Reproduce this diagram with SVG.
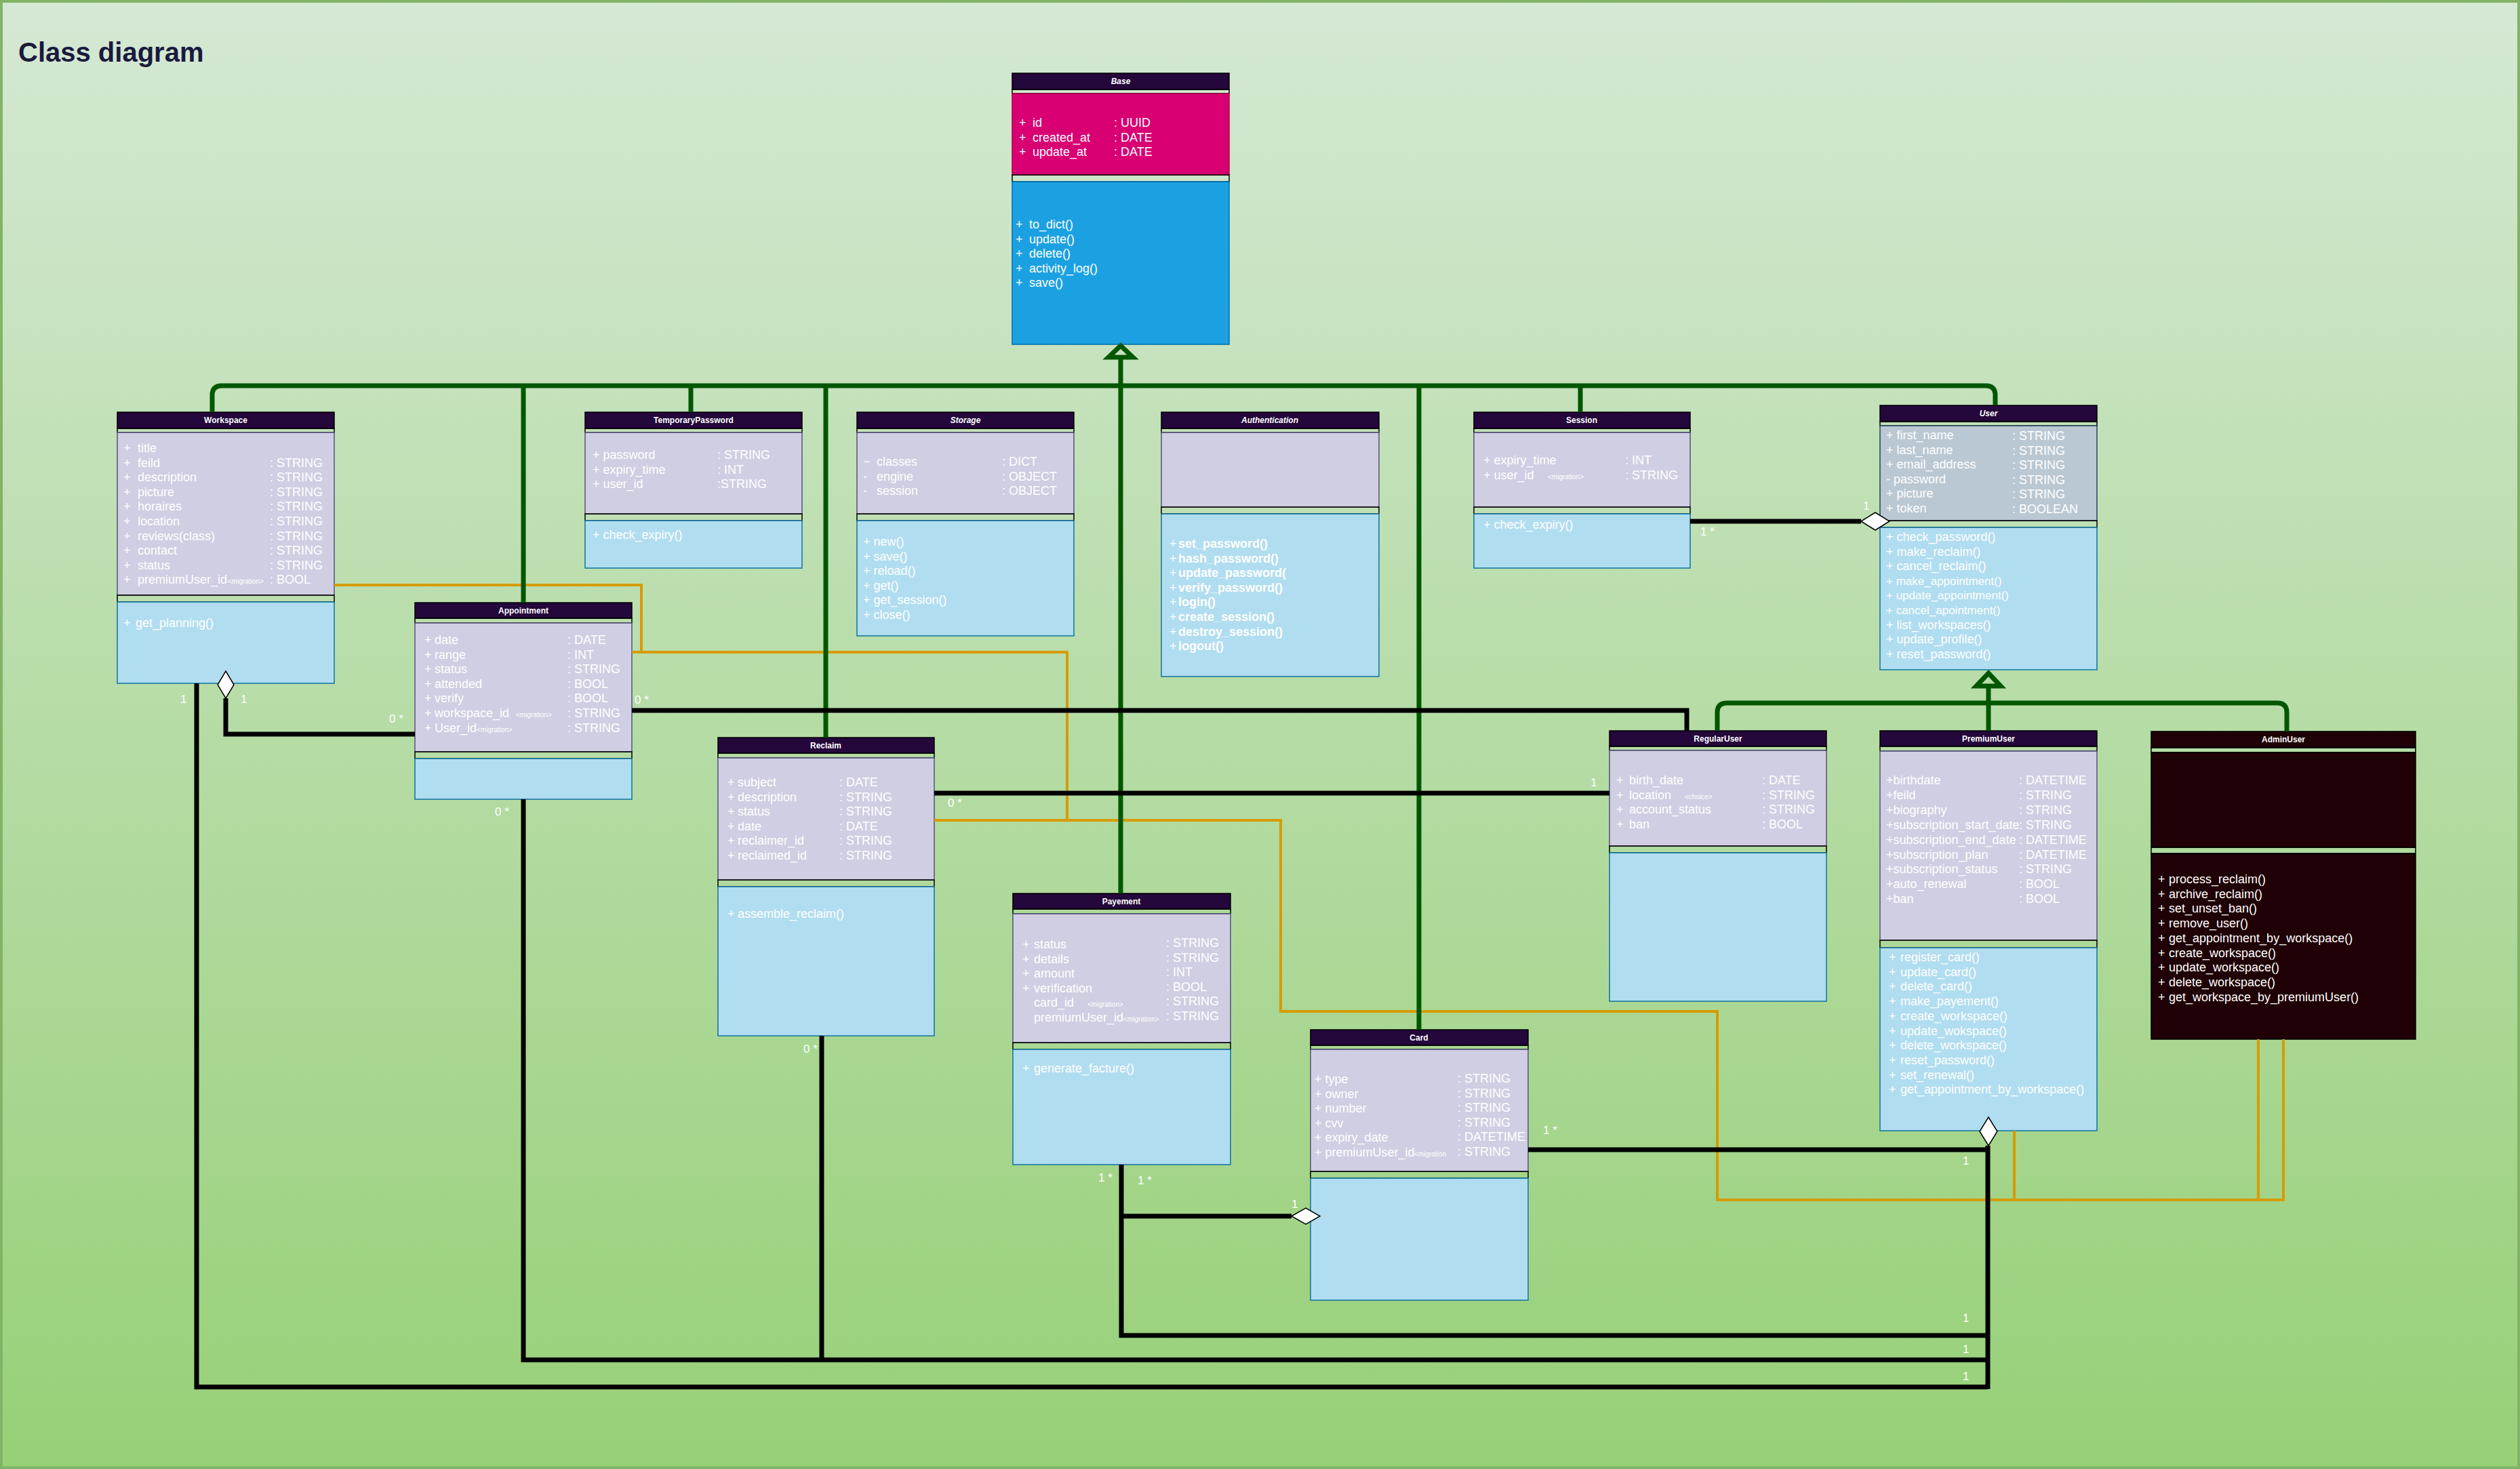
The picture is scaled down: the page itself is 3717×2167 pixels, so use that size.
<svg xmlns="http://www.w3.org/2000/svg" width="3717" height="2167" viewBox="0 0 3717 2167">
<defs>
<linearGradient id="bg" x1="0" y1="0" x2="0" y2="1">
<stop offset="0" stop-color="#d5e8d4"/>
<stop offset="1" stop-color="#97d077"/>
</linearGradient>
</defs>
<style>
text{font-family:"Liberation Sans",Arial,sans-serif;fill:#ffffff;font-size:18px}
.h{fill:#24073b;stroke:#000;stroke-width:1.5}
.g{fill:none;stroke:#000;stroke-width:1.5}
.at{fill:#d0cee2;stroke:#56517e;stroke-width:1.5}
.me{fill:#b1ddf0;stroke:#10739e;stroke-width:1.5}
.ht{font-size:12px;font-weight:bold;text-anchor:middle}
.it{font-style:italic}
.s{font-size:10px}
.b{font-weight:bold}
.lb{font-size:17px}
.gr{fill:none;stroke:#005700;stroke-width:7}
.bk{fill:none;stroke:#000;stroke-width:7}
.or{fill:none;stroke:#d79b00;stroke-width:4}
.dm{fill:#fff;stroke:#000;stroke-width:1.5}
</style>
<rect x="2" y="2" width="3713" height="2163" fill="url(#bg)" stroke="#82b366" stroke-width="4"/>
<text x="27" y="91" style="font-size:40px;font-weight:bold;fill:#1a1a3e">Class diagram</text>

<g id="Base">
<rect class="h" x="1493" y="108" width="320" height="24"/>
<rect class="g" x="1493" y="132" width="320" height="6"/>
<rect x="1493" y="138" width="320" height="120" fill="#d80073" stroke="#a50040" stroke-width="1.5"/>
<rect class="g" x="1493" y="258" width="320" height="10"/>
<rect x="1493" y="268" width="320" height="240" fill="#1ba1e2" stroke="#006eaf" stroke-width="1.5"/>
<text class="ht it" x="1653" y="124">Base</text>
<text x="1503" y="187">+</text><text x="1523" y="187">id</text><text x="1643" y="187">: UUID</text>
<text x="1503" y="208.5">+</text><text x="1523" y="208.5">created_at</text><text x="1643" y="208.5">: DATE</text>
<text x="1503" y="230">+</text><text x="1523" y="230">update_at</text><text x="1643" y="230">: DATE</text>
<text x="1498" y="337">+</text><text x="1518" y="337">to_dict()</text>
<text x="1498" y="358.6">+</text><text x="1518" y="358.6">update()</text>
<text x="1498" y="380.2">+</text><text x="1518" y="380.2">delete()</text>
<text x="1498" y="401.8">+</text><text x="1518" y="401.8">activity_log()</text>
<text x="1498" y="423.4">+</text><text x="1518" y="423.4">save()</text>
</g>

<g id="Workspace">
<rect class="h" x="173" y="608" width="320" height="24"/>
<rect class="g" x="173" y="632" width="320" height="6"/>
<rect class="at" x="173" y="638" width="320" height="240"/>
<rect class="g" x="173" y="878" width="320" height="10"/>
<rect class="me" x="173" y="888" width="320" height="120"/>
<text class="ht" x="333" y="624">Workspace</text>
<text x="182" y="667">+</text><text x="203" y="667">title</text>
<text x="182" y="688.6">+</text><text x="203" y="688.6">feild</text><text x="398" y="688.6">: STRING</text>
<text x="182" y="710.2">+</text><text x="203" y="710.2">description</text><text x="398" y="710.2">: STRING</text>
<text x="182" y="731.8">+</text><text x="203" y="731.8">picture</text><text x="398" y="731.8">: STRING</text>
<text x="182" y="753.4">+</text><text x="203" y="753.4">horaires</text><text x="398" y="753.4">: STRING</text>
<text x="182" y="775">+</text><text x="203" y="775">location</text><text x="398" y="775">: STRING</text>
<text x="182" y="796.6">+</text><text x="203" y="796.6">reviews(class)</text><text x="398" y="796.6">: STRING</text>
<text x="182" y="818.2">+</text><text x="203" y="818.2">contact</text><text x="398" y="818.2">: STRING</text>
<text x="182" y="839.8">+</text><text x="203" y="839.8">status</text><text x="398" y="839.8">: STRING</text>
<text x="182" y="861.4">+</text><text x="203" y="861.4">premiumUser_id</text><text class="s" x="336" y="861.4">&lt;migration&gt;</text><text x="398" y="861.4">: BOOL</text>
<text x="182" y="925">+</text><text x="200" y="925">get_planning()</text>
</g>

<g id="TemporaryPassword">
<rect class="h" x="863" y="608" width="320" height="24"/>
<rect class="g" x="863" y="632" width="320" height="6"/>
<rect class="at" x="863" y="638" width="320" height="120"/>
<rect class="g" x="863" y="758" width="320" height="10"/>
<rect class="me" x="863" y="768" width="320" height="70"/>
<text class="ht" x="1023" y="624">TemporaryPassword</text>
<text x="874" y="677">+ password</text><text x="1058" y="677">: STRING</text>
<text x="874" y="698.5">+ expiry_time</text><text x="1058" y="698.5">: INT</text>
<text x="874" y="720">+ user_id</text><text x="1058" y="720">:STRING</text>
<text x="874" y="795">+ check_expiry()</text>
</g>

<g id="Storage">
<rect class="h" x="1264" y="608" width="320" height="24"/>
<rect class="g" x="1264" y="632" width="320" height="6"/>
<rect class="at" x="1264" y="638" width="320" height="120"/>
<rect class="g" x="1264" y="758" width="320" height="10"/>
<rect class="me" x="1264" y="768" width="320" height="170"/>
<text class="ht it" x="1424" y="624">Storage</text>
<text x="1273" y="687">~</text><text x="1293" y="687">classes</text><text x="1478" y="687">: DICT</text>
<text x="1273" y="708.5">-</text><text x="1293" y="708.5">engine</text><text x="1478" y="708.5">: OBJECT</text>
<text x="1273" y="730">-</text><text x="1293" y="730">session</text><text x="1478" y="730">: OBJECT</text>
<text x="1273" y="805">+ new()</text>
<text x="1273" y="826.6">+ save()</text>
<text x="1273" y="848.2">+ reload()</text>
<text x="1273" y="869.8">+ get()</text>
<text x="1273" y="891.4">+ get_session()</text>
<text x="1273" y="913">+ close()</text>
</g>

<g id="Authentication">
<rect class="h" x="1713" y="608" width="321" height="24"/>
<rect class="g" x="1713" y="632" width="321" height="6"/>
<rect class="at" x="1713" y="638" width="321" height="110"/>
<rect class="g" x="1713" y="748" width="321" height="10"/>
<rect class="me" x="1713" y="758" width="321" height="240"/>
<text class="ht it" x="1873" y="624">Authentication</text>
<text x="1725" y="808">+</text><text class="b" x="1738" y="808">set_password()</text>
<text x="1725" y="829.6">+</text><text class="b" x="1738" y="829.6">hash_password()</text>
<text x="1725" y="851.2">+</text><text class="b" x="1738" y="851.2">update_password(</text>
<text x="1725" y="872.8">+</text><text class="b" x="1738" y="872.8">verify_password()</text>
<text x="1725" y="894.4">+</text><text class="b" x="1738" y="894.4">login()</text>
<text x="1725" y="916">+</text><text class="b" x="1738" y="916">create_session()</text>
<text x="1725" y="937.6">+</text><text class="b" x="1738" y="937.6">destroy_session()</text>
<text x="1725" y="959.2">+</text><text class="b" x="1738" y="959.2">logout()</text>
</g>

<g id="Session">
<rect class="h" x="2174" y="608" width="319" height="24"/>
<rect class="g" x="2174" y="632" width="319" height="6"/>
<rect class="at" x="2174" y="638" width="319" height="110"/>
<rect class="g" x="2174" y="748" width="319" height="10"/>
<rect class="me" x="2174" y="758" width="319" height="80"/>
<text class="ht" x="2333" y="624">Session</text>
<text x="2188" y="685">+ expiry_time</text><text x="2397" y="685">: INT</text>
<text x="2188" y="706.5">+ user_id</text><text class="s" x="2283" y="706.5">&lt;migration&gt;</text><text x="2397" y="706.5">: STRING</text>
<text x="2188" y="780">+ check_expiry()</text>
</g>

<g id="User">
<rect class="h" x="2773" y="598" width="320" height="24"/>
<rect class="g" x="2773" y="622" width="320" height="6"/>
<rect x="2773" y="628" width="320" height="140" fill="#bac8d3" stroke="#23445d" stroke-width="1.5"/>
<rect class="g" x="2773" y="768" width="320" height="10"/>
<rect class="me" x="2773" y="778" width="320" height="210"/>
<text class="ht it" x="2933" y="614">User</text>
<text x="2782" y="648">+ first_name</text><text x="2968" y="649">: STRING</text>
<text x="2782" y="669.6">+ last_name</text><text x="2968" y="670.6">: STRING</text>
<text x="2782" y="691.2">+ email_address</text><text x="2968" y="692.2">: STRING</text>
<text x="2782" y="712.8">- password</text><text x="2968" y="713.8">: STRING</text>
<text x="2782" y="734.4">+ picture</text><text x="2968" y="735.4">: STRING</text>
<text x="2782" y="756">+ token</text><text x="2968" y="757">: BOOLEAN</text>
<text x="2782" y="798">+ check_password()</text>
<text x="2782" y="819.6">+ make_reclaim()</text>
<text x="2782" y="841.2">+ cancel_reclaim()</text>
<text x="2782" y="862.8" style="font-size:17px">+ make_appointment()</text>
<text x="2782" y="884.4" style="font-size:17px">+ update_appointment()</text>
<text x="2782" y="906" style="font-size:17px">+ cancel_apointment()</text>
<text x="2782" y="927.6">+ list_workspaces()</text>
<text x="2782" y="949.2">+ update_profile()</text>
<text x="2782" y="970.8">+ reset_password()</text>
</g>

<g id="Appointment">
<rect class="h" x="612" y="889" width="320" height="23"/>
<rect class="g" x="612" y="912" width="320" height="7"/>
<rect class="at" x="612" y="919" width="320" height="190"/>
<rect class="g" x="612" y="1109" width="320" height="10"/>
<rect class="me" x="612" y="1119" width="320" height="60"/>
<text class="ht" x="772" y="905">Appointment</text>
<text x="626" y="950">+</text><text x="641" y="950">date</text><text x="837" y="950">: DATE</text>
<text x="626" y="971.6">+</text><text x="641" y="971.6">range</text><text x="837" y="971.6">: INT</text>
<text x="626" y="993.2">+</text><text x="641" y="993.2">status</text><text x="837" y="993.2">: STRING</text>
<text x="626" y="1014.8">+</text><text x="641" y="1014.8">attended</text><text x="837" y="1014.8">: BOOL</text>
<text x="626" y="1036.4">+</text><text x="641" y="1036.4">verify</text><text x="837" y="1036.4">: BOOL</text>
<text x="626" y="1058">+</text><text x="641" y="1058">workspace_id</text><text class="s" x="761" y="1058">&lt;migration&gt;</text><text x="837" y="1058">: STRING</text>
<text x="626" y="1079.6">+</text><text x="641" y="1079.6">User_id</text><text class="s" x="703" y="1079.6">&lt;migration&gt;</text><text x="837" y="1079.6">: STRING</text>
</g>

<g id="Reclaim">
<rect class="h" x="1059" y="1088" width="319" height="23"/>
<rect class="g" x="1059" y="1111" width="319" height="7"/>
<rect class="at" x="1059" y="1118" width="319" height="180"/>
<rect class="g" x="1059" y="1298" width="319" height="10"/>
<rect class="me" x="1059" y="1308" width="319" height="220"/>
<text class="ht" x="1218" y="1104">Reclaim</text>
<text x="1073" y="1160">+</text><text x="1088" y="1160">subject</text><text x="1238" y="1160">: DATE</text>
<text x="1073" y="1181.6">+</text><text x="1088" y="1181.6">description</text><text x="1238" y="1181.6">: STRING</text>
<text x="1073" y="1203.2">+</text><text x="1088" y="1203.2">status</text><text x="1238" y="1203.2">: STRING</text>
<text x="1073" y="1224.8">+</text><text x="1088" y="1224.8">date</text><text x="1238" y="1224.8">: DATE</text>
<text x="1073" y="1246.4">+</text><text x="1088" y="1246.4">reclaimer_id</text><text x="1238" y="1246.4">: STRING</text>
<text x="1073" y="1268">+</text><text x="1088" y="1268">reclaimed_id</text><text x="1238" y="1268">: STRING</text>
<text x="1073" y="1354">+</text><text x="1088" y="1354">assemble_reclaim()</text>
</g>

<g id="Payement">
<rect class="h" x="1494" y="1318" width="321" height="23"/>
<rect class="g" x="1494" y="1341" width="321" height="7"/>
<rect class="at" x="1494" y="1348" width="321" height="190"/>
<rect class="g" x="1494" y="1538" width="321" height="10"/>
<rect class="me" x="1494" y="1548" width="321" height="170"/>
<text class="ht" x="1654" y="1334">Payement</text>
<text x="1508" y="1399">+</text><text x="1525" y="1399">status</text><text x="1720" y="1397">: STRING</text>
<text x="1508" y="1420.6">+</text><text x="1525" y="1420.6">details</text><text x="1720" y="1418.6">: STRING</text>
<text x="1508" y="1442.2">+</text><text x="1525" y="1442.2">amount</text><text x="1720" y="1440.2">: INT</text>
<text x="1508" y="1463.8">+</text><text x="1525" y="1463.8">verification</text><text x="1720" y="1461.8">: BOOL</text>
<text x="1525" y="1485.4">card_id</text><text class="s" x="1604" y="1485.4">&lt;migration&gt;</text><text x="1720" y="1483.4">: STRING</text>
<text x="1525" y="1507">premiumUser_id</text><text class="s" x="1657" y="1507">&lt;migration&gt;</text><text x="1720" y="1505">: STRING</text>
<text x="1508" y="1582">+</text><text x="1525" y="1582">generate_facture()</text>
</g>

<g id="Card">
<rect class="h" x="1933" y="1519" width="321" height="23"/>
<rect class="g" x="1933" y="1542" width="321" height="6"/>
<rect class="at" x="1933" y="1548" width="321" height="180"/>
<rect class="g" x="1933" y="1728" width="321" height="10"/>
<rect class="me" x="1933" y="1738" width="321" height="180"/>
<text class="ht" x="2093" y="1535">Card</text>
<text x="1939" y="1598">+ type</text><text x="2150" y="1597">: STRING</text>
<text x="1939" y="1619.5">+ owner</text><text x="2150" y="1618.5">: STRING</text>
<text x="1939" y="1641">+ number</text><text x="2150" y="1640">: STRING</text>
<text x="1939" y="1662.5">+ cvv</text><text x="2150" y="1661.5">: STRING</text>
<text x="1939" y="1684">+ expiry_date</text><text x="2150" y="1683">: DATETIME</text>
<text x="1939" y="1705.5">+ premiumUser_id</text><text class="s" x="2086" y="1705.5">&lt;migration</text><text x="2150" y="1704.5">: STRING</text>
</g>

<g id="RegularUser">
<rect class="h" x="2374" y="1078" width="320" height="23"/>
<rect class="g" x="2374" y="1101" width="320" height="6"/>
<rect class="at" x="2374" y="1107" width="320" height="141"/>
<rect class="g" x="2374" y="1248" width="320" height="10"/>
<rect class="me" x="2374" y="1258" width="320" height="219"/>
<text class="ht" x="2534" y="1094">RegularUser</text>
<text x="2384" y="1157">+</text><text x="2403" y="1157">birth_date</text><text x="2599" y="1157">: DATE</text>
<text x="2384" y="1178.6">+</text><text x="2403" y="1178.6">location</text><text class="s" x="2485" y="1178.6">&lt;choice&gt;</text><text x="2599" y="1178.6">: STRING</text>
<text x="2384" y="1200.2">+</text><text x="2403" y="1200.2">account_status</text><text x="2599" y="1200.2">: STRING</text>
<text x="2384" y="1221.8">+</text><text x="2403" y="1221.8">ban</text><text x="2599" y="1221.8">: BOOL</text>
</g>

<g id="PremiumUser">
<rect class="h" x="2773" y="1078" width="320" height="23"/>
<rect class="g" x="2773" y="1101" width="320" height="7"/>
<rect class="at" x="2773" y="1108" width="320" height="279"/>
<rect class="g" x="2773" y="1387" width="320" height="11"/>
<rect class="me" x="2773" y="1398" width="320" height="270"/>
<text class="ht" x="2933" y="1094">PremiumUser</text>
<text x="2782" y="1157">+birthdate</text><text x="2978" y="1157">: DATETIME</text>
<text x="2782" y="1178.9">+feild</text><text x="2978" y="1178.9">: STRING</text>
<text x="2782" y="1200.8">+biography</text><text x="2978" y="1200.8">: STRING</text>
<text x="2782" y="1222.7">+subscription_start_date</text><text x="2978" y="1222.7">: STRING</text>
<text x="2782" y="1244.6">+subscription_end_date</text><text x="2978" y="1244.6">: DATETIME</text>
<text x="2782" y="1266.5">+subscription_plan</text><text x="2978" y="1266.5">: DATETIME</text>
<text x="2782" y="1288.4">+subscription_status</text><text x="2978" y="1288.4">: STRING</text>
<text x="2782" y="1310.3">+auto_renewal</text><text x="2978" y="1310.3">: BOOL</text>
<text x="2782" y="1332.2">+ban</text><text x="2978" y="1332.2">: BOOL</text>
<text x="2786" y="1418">+</text><text x="2803" y="1418">register_card()</text>
<text x="2786" y="1439.7">+</text><text x="2803" y="1439.7">update_card()</text>
<text x="2786" y="1461.4">+</text><text x="2803" y="1461.4">delete_card()</text>
<text x="2786" y="1483.1">+</text><text x="2803" y="1483.1">make_payement()</text>
<text x="2786" y="1504.8">+</text><text x="2803" y="1504.8">create_workspace()</text>
<text x="2786" y="1526.5">+</text><text x="2803" y="1526.5">update_wokspace()</text>
<text x="2786" y="1548.2">+</text><text x="2803" y="1548.2">delete_workspace()</text>
<text x="2786" y="1569.9">+</text><text x="2803" y="1569.9">reset_password()</text>
<text x="2786" y="1591.6">+</text><text x="2803" y="1591.6">set_renewal()</text>
<text x="2786" y="1613.3">+</text><text x="2803" y="1613.3">get_appointment_by_workspace()</text>
</g>

<g id="AdminUser">
<rect x="3173" y="1079" width="390" height="24" fill="#1e0006" stroke="#000" stroke-width="1.5"/>
<rect class="g" x="3173" y="1103" width="390" height="7"/>
<rect x="3173" y="1110" width="390" height="140" fill="#1e0006" stroke="#000" stroke-width="1.5"/>
<rect class="g" x="3173" y="1250" width="390" height="9"/>
<rect x="3173" y="1259" width="390" height="274" fill="#1e0006" stroke="#000" stroke-width="1.5"/>
<text class="ht" x="3368" y="1095">AdminUser</text>
<text x="3183" y="1303">+</text><text x="3199" y="1303">process_reclaim()</text>
<text x="3183" y="1324.7">+</text><text x="3199" y="1324.7">archive_reclaim()</text>
<text x="3183" y="1346.4">+</text><text x="3199" y="1346.4">set_unset_ban()</text>
<text x="3183" y="1368.1">+</text><text x="3199" y="1368.1">remove_user()</text>
<text x="3183" y="1389.8">+</text><text x="3199" y="1389.8">get_appointment_by_workspace()</text>
<text x="3183" y="1411.5">+</text><text x="3199" y="1411.5">create_workspace()</text>
<text x="3183" y="1433.2">+</text><text x="3199" y="1433.2">update_workspace()</text>
<text x="3183" y="1454.9">+</text><text x="3199" y="1454.9">delete_workspace()</text>
<text x="3183" y="1476.6">+</text><text x="3199" y="1476.6">get_workspace_by_premiumUser()</text>
</g>

<g id="connectors">
<path class="or" d="M493,863 H946 V962"/>
<path class="or" d="M932,962 H1574 V1210"/>
<path class="or" d="M1378,1210 H1889 V1492 H2533 V1770 H3368 V1533"/>
<path class="or" d="M2971,1668 V1770"/>
<path class="or" d="M3331,1533 V1770"/>
<path class="gr" d="M313,608 V583 Q313,569 327,569 H2929 Q2943,569 2943,583 V598"/>
<path class="gr" d="M772,569 V889"/>
<path class="gr" d="M1019,569 V608"/>
<path class="gr" d="M1218,569 V1088"/>
<path class="gr" d="M1653,527 V1318"/>
<path class="gr" d="M2093,569 V1519"/>
<path class="gr" d="M2331,569 V608"/>
<polygon class="gr" points="1653,510 1671,527 1635,527"/>
<path class="gr" d="M2533,1077 V1051 Q2533,1037 2547,1037 H3359 Q3373,1037 3373,1051 V1079"/>
<path class="gr" d="M2933,1012 V1078"/>
<polygon class="gr" points="2933,993 2951,1012 2915,1012"/>
<path class="bk" d="M290,1008 V2046 H2932"/>
<path class="bk" d="M333,1030 V1083 H612"/>
<path class="bk" d="M932,1048 H2488 V1078"/>
<path class="bk" d="M772,1179 V2006 H2932"/>
<path class="bk" d="M1212,1528 V2006"/>
<path class="bk" d="M1378,1170 H2374"/>
<path class="bk" d="M2493,769 H2745"/>
<path class="bk" d="M1654,1718 V1970 H2932"/>
<path class="bk" d="M1654,1794 H1905"/>
<path class="bk" d="M2254,1696 H2932"/>
<path class="bk" d="M2932,1690 V2049"/>
<polygon class="dm" points="333,990 345,1010 333,1030 321,1010"/>
<polygon class="dm" points="2745,769 2766,756 2787,769 2766,782"/>
<polygon class="dm" points="1905,1794 1926,1782 1947,1794 1926,1806"/>
<polygon class="dm" points="2933,1648 2946,1669 2933,1690 2920,1669"/>
<text class="lb" x="266" y="1037">1</text>
<text class="lb" x="355" y="1037">1</text>
<text class="lb" x="574" y="1066">0 *</text>
<text class="lb" x="936" y="1038">0 *</text>
<text class="lb" x="730" y="1203">0 *</text>
<text class="lb" x="1398" y="1190">0 *</text>
<text class="lb" x="2346" y="1160">1</text>
<text class="lb" x="1185" y="1553">0 *</text>
<text class="lb" x="2508" y="790">1 *</text>
<text class="lb" x="2748" y="752">1</text>
<text class="lb" x="1620" y="1743">1 *</text>
<text class="lb" x="1678" y="1747">1 *</text>
<text class="lb" x="1905" y="1782">1</text>
<text class="lb" x="2276" y="1673">1 *</text>
<text class="lb" x="2895" y="1718">1</text>
<text class="lb" x="2895" y="1950">1</text>
<text class="lb" x="2895" y="1996">1</text>
<text class="lb" x="2895" y="2036">1</text>
</g>
</svg>
